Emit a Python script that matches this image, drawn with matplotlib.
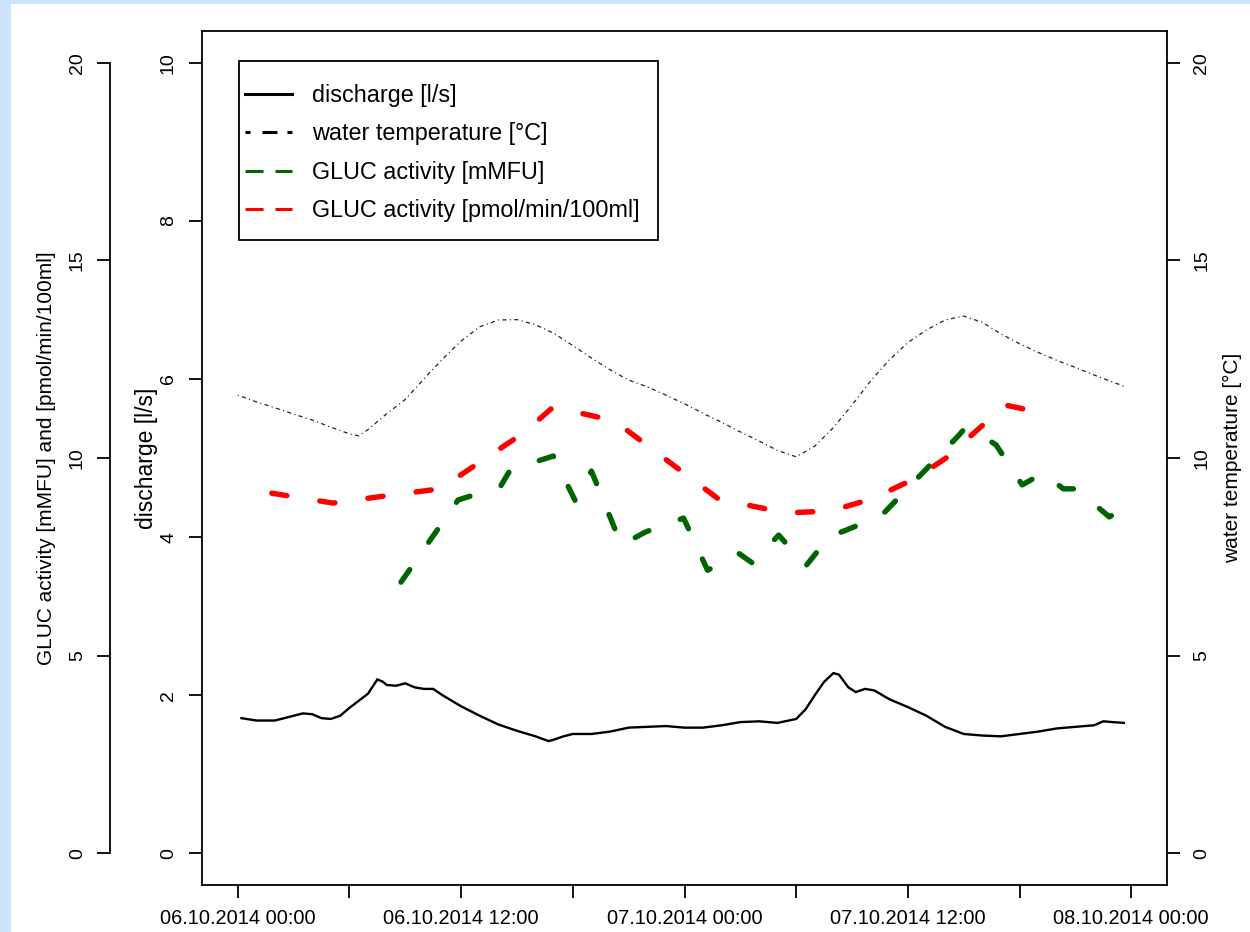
import matplotlib
matplotlib.use("Agg")
import matplotlib.pyplot as plt
from matplotlib.lines import Line2D
from matplotlib.patches import Rectangle
import pandas as pd

plt.rcParams['font.family'] = ['Liberation Sans', 'DejaVu Sans']
plt.rcParams['lines.scale_dashes'] = False

START = pd.Timestamp("2014-10-06 00:00")

# discharge [l/s], hours after 06.10.2014 00:00
discharge_hours = [0.2, 1, 2, 3, 3.5, 4, 4.5, 5, 5.5, 6,
                   7, 7.5, 7.8, 8, 8.5, 9, 9.5, 10, 10.5, 11,
                   12, 13, 14, 15, 16, 16.7, 17, 17.5, 18, 19,
                   20, 21, 22, 23, 24, 25, 26, 27, 28, 29,
                   30, 30.5, 31, 31.5, 32, 32.3, 32.8, 33.2, 33.7, 34.2,
                   35, 36, 37, 38, 39, 40, 41, 42, 43, 44,
                   45, 46, 46.5, 47, 47.6]
discharge = [1.71, 1.68, 1.68, 1.74, 1.77, 1.76, 1.71, 1.70, 1.74, 1.84,
             2.02, 2.20, 2.17, 2.13, 2.12, 2.15, 2.10, 2.08, 2.08, 2.00,
             1.86, 1.74, 1.63, 1.55, 1.48, 1.42, 1.44, 1.48, 1.51, 1.51,
             1.54, 1.59, 1.60, 1.61, 1.59, 1.59, 1.62, 1.66, 1.67, 1.65,
             1.70, 1.82, 2.00, 2.17, 2.28, 2.26, 2.10, 2.04, 2.08, 2.06,
             1.95, 1.85, 1.74, 1.60, 1.51, 1.49, 1.48, 1.51, 1.54, 1.58,
             1.60, 1.62, 1.67, 1.66, 1.65]

# water temperature [°C]
temp_hours = [0, 1, 2, 3, 4, 5, 6, 6.5, 7, 8, 9, 10, 11, 12, 13, 14, 15, 16,
              17, 18, 19, 20, 21, 22, 23, 24, 25, 26, 27, 28, 29, 30, 31, 32,
              33, 34, 35, 36, 37, 38, 39, 40, 41, 42, 43, 44, 45, 46, 47, 47.7]
temp_c = [11.59, 11.42, 11.27, 11.11, 10.96, 10.78, 10.61, 10.56, 10.72, 11.12,
          11.48, 12.00, 12.50, 12.96, 13.32, 13.49, 13.50, 13.37, 13.15, 12.84,
          12.53, 12.23, 11.97, 11.80, 11.59, 11.37, 11.13, 10.90, 10.66, 10.43,
          10.19, 10.03, 10.30, 10.77, 11.34, 11.95, 12.48, 12.92, 13.24, 13.49,
          13.59, 13.43, 13.14, 12.89, 12.67, 12.47, 12.29, 12.10, 11.92, 11.80]

# GLUC activity [mMFU]
gluc_mmfu_hours = [8.77, 11.84, 14.10, 14.64, 16.95, 18.14, 19.00, 20.61, 21.91,
                   23.95, 25.24, 26.91, 27.66, 29.06, 30.52, 31.75, 34.55, 38.75,
                   39.02, 39.77, 40.74, 42.14, 43.27, 44.35, 45.05, 46.82, 47.36]
gluc_mmfu = [6.86, 8.94, 9.27, 9.70, 10.05, 8.91, 9.67, 7.80, 8.13,
             8.48, 7.16, 7.59, 7.34, 8.05, 7.27, 8.00, 8.53, 10.58,
             10.73, 10.63, 10.33, 9.32, 9.62, 9.22, 9.22, 8.51, 8.66]

# GLUC activity [pmol/min/100ml]
gluc_pmol_hours = [1.83, 5.11, 7.91, 10.87, 15.34, 16.95, 20.24, 25.83,
                   29.44, 31.86, 34.02, 36.44, 38.05, 41.23, 43.00]
gluc_pmol = [9.11, 8.86, 9.04, 9.22, 10.63, 11.29, 10.94, 8.96,
             8.61, 8.66, 8.96, 9.49, 10.00, 11.34, 11.16]

tick_hours = [0, 6, 12, 18, 24, 30, 36, 42, 48]
tick_labels = ["06.10.2014 00:00", "", "06.10.2014 12:00", "",
               "07.10.2014 00:00", "", "07.10.2014 12:00", "",
               "08.10.2014 00:00"]

legend_labels = ["discharge [l/s]", "water temperature [°C]",
                 "GLUC activity [mMFU]", "GLUC activity [pmol/min/100ml]"]


def to_time(hours):
    return (START + pd.to_timedelta(hours, unit="h")).to_pydatetime()


W, H = 1250, 932
fig = plt.figure(figsize=(W / 100, H / 100), dpi=100, facecolor="#cde3fb")
fig.add_artist(Rectangle((11 / W, 0), 1 - 11 / W, (H - 4) / H,
                         transform=fig.transFigure, facecolor="white",
                         edgecolor="none", zorder=-10))

ax = fig.add_axes([202 / W, 1 - 885 / H, 965 / W, 854 / H])
ax_t = ax.twinx()
ax_g = ax.twinx()

TICK_LEN = 9.4
TICK_W = 1.3
LABEL_FS = 14
AXLABEL_FS = 15

# discharge on the inner left axis
ax.plot(to_time(discharge_hours), discharge, color="black", lw=1.7,
        solid_joinstyle="miter")
ax.set_ylim(-0.4, 10.4)
ax.set_yticks([0, 2, 4, 6, 8, 10])
ax.set_xlim(to_time(-1.92), to_time(49.92))
ax.set_xticks(to_time(tick_hours))
ax.set_xticklabels(tick_labels)
ax.tick_params(axis="x", direction="out", length=TICK_LEN, width=TICK_W,
               labelsize=14.4, pad=8)
ax.tick_params(axis="y", direction="out", length=TICK_LEN, width=TICK_W,
               labelsize=LABEL_FS, pad=8.6)
for lbl in ax.get_yticklabels():
    lbl.set_rotation(90)
    lbl.set_va("center")
for sp in ax.spines.values():
    sp.set_linewidth(TICK_W)
ax.set_ylabel("discharge [l/s]", fontsize=16.5)
ax.yaxis.label.set_va("center")
ax.yaxis.set_label_coords((146 - 202) / 965, 0.5)

# water temperature on the right axis
ax_t.plot(to_time(temp_hours), temp_c, color="#222222", lw=0.9,
          linestyle=(0, (0.8, 2.4, 3.0, 2.4)))
ax_t.set_ylim(-0.8, 20.8)
ax_t.set_yticks([0, 5, 10, 15, 20])
ax_t.tick_params(axis="y", direction="out", length=TICK_LEN, width=TICK_W,
                 labelsize=LABEL_FS, pad=9.4)
for lbl in ax_t.get_yticklabels():
    lbl.set_rotation(90)
    lbl.set_va("center")
for sp in ax_t.spines.values():
    sp.set_visible(False)
ax_t.set_ylabel("water temperature [°C]", fontsize=AXLABEL_FS)
ax_t.yaxis.label.set_va("center")
ax_t.yaxis.set_label_coords((1232 - 202) / 965, 0.5)

# GLUC activities on the outer left axis
gluc_dash = (0, (11.0, 24.0))
ax_g.plot(to_time(gluc_mmfu_hours), gluc_mmfu, color="#006400", lw=3.9,
          linestyle=gluc_dash, dash_capstyle="round", dash_joinstyle="round")
ax_g.plot(to_time(gluc_pmol_hours), gluc_pmol, color="#ff0000", lw=3.9,
          linestyle=gluc_dash, dash_capstyle="round", dash_joinstyle="round")
ax_g.set_ylim(-0.8, 20.8)
ax_g.set_yticks([0, 5, 10, 15, 20])
ax_g.yaxis.set_ticks_position("left")
ax_g.yaxis.set_label_position("left")
for name, sp in ax_g.spines.items():
    sp.set_visible(name == "left")
ax_g.spines["left"].set_position(("outward", 92 / 1.389))
ax_g.spines["left"].set_bounds(0, 20)
ax_g.spines["left"].set_linewidth(TICK_W)
ax_g.tick_params(axis="y", direction="out", length=TICK_LEN, width=TICK_W,
                 labelsize=LABEL_FS, pad=8)
for lbl in ax_g.get_yticklabels():
    lbl.set_rotation(90)
    lbl.set_va("center")
ax_g.set_ylabel("GLUC activity [mMFU] and [pmol/min/100ml]", fontsize=AXLABEL_FS)
ax_g.yaxis.label.set_va("center")
ax_g.yaxis.set_label_coords((46 - 202) / 965, 0.5)

# legend with a plain rectangular frame
frame = Rectangle(((239 - 202) / 965, (885 - 240) / 854), 419 / 965, 179 / 854,
                  transform=ax.transAxes, facecolor="white", edgecolor="black",
                  lw=1.3, zorder=10)
ax_g.add_patch(frame)
handles = [
    Line2D([], [], color="black", lw=2.2),
    Line2D([], [], color="black", lw=2.2, linestyle=(0, (3.6, 8.6, 10.8, 7.2))),
    Line2D([], [], color="#006400", lw=2.2, linestyle=(0, (13.0, 8.6))),
    Line2D([], [], color="#ff0000", lw=2.2, linestyle=(0, (13.0, 8.6))),
]
leg = ax_g.legend(handles, legend_labels, loc="upper left",
                  bbox_to_anchor=((245 - 202) / 965, (885 - 84) / 854),
                  bbox_transform=ax.transAxes, frameon=False, borderpad=0,
                  borderaxespad=0, handlelength=2.02, handletextpad=0.86,
                  labelspacing=0.66, fontsize=16.8)
leg.set_zorder(20)

fig.savefig("out.png", dpi=100, facecolor=fig.get_facecolor())
